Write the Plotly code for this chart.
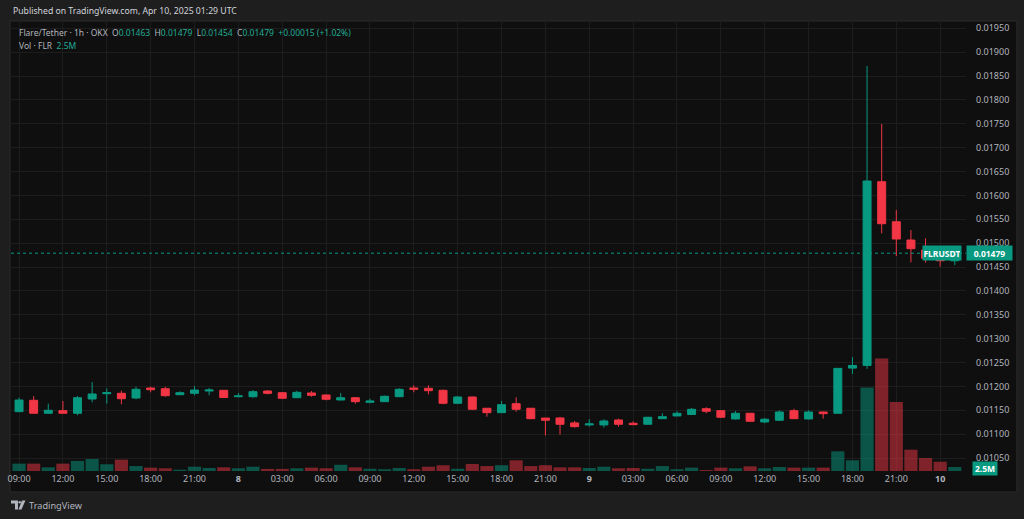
import pandas as pd
import plotly.graph_objects as go

# FLR/USDT 1h candles, OKX, 2025-04-07 09:00 .. 2025-04-10 01:00 UTC
start_time = "2025-04-07 09:00"
n_candles = 65

opens = [0.011471, 0.011709, 0.011437, 0.011492, 0.011437, 0.011736, 0.011847, 0.011855, 0.011757, 0.011966,
         0.011951, 0.011826, 0.011855, 0.011903, 0.011918, 0.011784, 0.011784, 0.011903, 0.011868, 0.011763,
         0.011862, 0.011820, 0.011715, 0.011763, 0.011667, 0.011680, 0.011784, 0.011966, 0.011960, 0.011918,
         0.011646, 0.011778, 0.011542, 0.011450, 0.011638, 0.011542, 0.011337, 0.011339, 0.011235, 0.011193,
         0.011193, 0.011297, 0.011228, 0.011207, 0.011324, 0.011381, 0.011412, 0.011533, 0.011492, 0.011318,
         0.011437, 0.011255, 0.011291, 0.011492, 0.011318, 0.011464, 0.011437, 0.012383, 0.012439, 0.016287,
         0.015449, 0.015066, 0.014857, 0.014683, 0.014630]
highs = [0.011763, 0.011799, 0.011638, 0.011694, 0.011799, 0.012091, 0.011960, 0.011910, 0.011993, 0.011993,
         0.011993, 0.011897, 0.012008, 0.011966, 0.011924, 0.011862, 0.011924, 0.011924, 0.011876, 0.011910,
         0.011903, 0.011830, 0.011862, 0.011778, 0.011742, 0.011809, 0.011960, 0.012023, 0.012023, 0.011935,
         0.011799, 0.011788, 0.011548, 0.011694, 0.011772, 0.011548, 0.011337, 0.011360, 0.011276, 0.011312,
         0.011312, 0.011324, 0.011270, 0.011360, 0.011437, 0.011479, 0.011548, 0.011563, 0.011500, 0.011485,
         0.011444, 0.011339, 0.011500, 0.011533, 0.011500, 0.011475, 0.012383, 0.012613, 0.018710, 0.017496,
         0.015694, 0.015275, 0.015102, 0.014730, 0.014790]
lows = [0.011464, 0.011437, 0.011423, 0.011433, 0.011396, 0.011667, 0.011638, 0.011625, 0.011730, 0.011876,
        0.011784, 0.011820, 0.011814, 0.011814, 0.011757, 0.011772, 0.011763, 0.011834, 0.011736, 0.011757,
        0.011784, 0.011709, 0.011709, 0.011638, 0.011646, 0.011673, 0.011778, 0.011876, 0.011834, 0.011625,
        0.011632, 0.011506, 0.011366, 0.011444, 0.011471, 0.011312, 0.010972, 0.010993, 0.011136, 0.011157,
        0.011136, 0.011157, 0.011193, 0.011199, 0.011318, 0.011375, 0.011408, 0.011437, 0.011339, 0.011308,
        0.011255, 0.011228, 0.011276, 0.011318, 0.011308, 0.011324, 0.011433, 0.012258, 0.012368, 0.015206,
        0.014730, 0.014599, 0.014591, 0.014507, 0.014540]
closes = [0.011715, 0.011437, 0.011500, 0.011437, 0.011763, 0.011841, 0.011868, 0.011742, 0.011939, 0.011931,
          0.011805, 0.011868, 0.011924, 0.011924, 0.011768, 0.011801, 0.011889, 0.011855, 0.011751, 0.011876,
          0.011814, 0.011730, 0.011763, 0.011680, 0.011694, 0.011793, 0.011939, 0.011939, 0.011910, 0.011646,
          0.011778, 0.011521, 0.011450, 0.011617, 0.011521, 0.011324, 0.011291, 0.011207, 0.011157, 0.011214,
          0.011276, 0.011207, 0.011199, 0.011354, 0.011366, 0.011437, 0.011521, 0.011479, 0.011354, 0.011437,
          0.011270, 0.011312, 0.011464, 0.011324, 0.011464, 0.011429, 0.012378, 0.012439, 0.016302, 0.015407,
          0.015087, 0.014884, 0.014683, 0.014632, 0.014790]
# volume in millions of FLR
volumes = [4.6, 4.6, 2.3, 4.6, 6.3, 7.5, 4.2, 7.1, 3.1, 2.1,
           1.7, 0.8, 2.7, 1.9, 2.3, 1.7, 2.7, 1.3, 1.3, 1.7,
           2.1, 1.7, 3.9, 2.3, 1.4, 1.1, 1.9, 1.1, 2.7, 3.6,
           1.4, 4.4, 3.1, 3.6, 6.7, 3.1, 3.6, 2.3, 2.3, 1.9,
           2.7, 1.7, 1.9, 1.4, 3.1, 1.1, 2.1, 0.6, 2.1, 1.7,
           2.9, 1.7, 2.5, 2.1, 2.1, 2.1, 12.3, 6.7, 52.1, 70.2,
           43.1, 13.3, 8.1, 5.8, 2.5]

time_labels = ["09:00", "12:00", "15:00", "18:00", "21:00", "<b>8</b>", "03:00", "06:00", "09:00", "12:00",
               "15:00", "18:00", "21:00", "<b>9</b>", "03:00", "06:00", "09:00", "12:00", "15:00", "18:00",
               "21:00", "<b>10</b>"]
price_ticks = [0.0105, 0.0110, 0.0115, 0.0120, 0.0125, 0.0130, 0.0135, 0.0140, 0.0145,
               0.0150, 0.0155, 0.0160, 0.0165, 0.0170, 0.0175, 0.0180, 0.0185, 0.0190, 0.0195]

last_price = 0.01479
change_abs = "+0.00015"
change_pct = "+1.02%"
last_volume_label = "2.5M"

UP = "#089981"
DOWN = "#f23645"
TEAL_TXT = "#22ab94"
FONT = "Noto Sans"

times = pd.date_range(start_time, periods=n_candles, freq="h")
vol_colors = ["rgba(8,153,129,0.5)" if c >= o else "rgba(242,54,69,0.5)" for o, c in zip(opens, closes)]

W, H = 1024, 519
ML, MR, MT, MB = 8, 58, 21, 48
PW, PH = W - ML - MR, H - MT - MB


def px(x):
    return (x - ML) / PW


def py(y):
    return (H - MB - y) / PH


fig = go.Figure()

fig.add_trace(go.Bar(
    x=times, y=volumes, marker=dict(color=vol_colors, line=dict(width=0)),
    yaxis="y", hoverinfo="skip", showlegend=False,
))

fig.add_trace(go.Candlestick(
    x=times, open=opens, high=highs, low=lows, close=closes, yaxis="y2",
    increasing=dict(line=dict(color=UP, width=1), fillcolor=UP),
    decreasing=dict(line=dict(color=DOWN, width=1), fillcolor=DOWN),
    whiskerwidth=0, showlegend=False,
))

x_start = times[0] - pd.Timedelta(minutes=33)
x_end = times[-1] + pd.Timedelta(minutes=46)

fig.update_layout(
    width=W, height=H,
    margin=dict(l=ML, r=MR, t=MT, b=MB),
    paper_bgcolor="#1e1e1e",
    plot_bgcolor="#0f0f0f",
    font=dict(family=FONT, size=9, color="#b2b5be"),
    bargap=0.1,
    boxgap=0.22,
    showlegend=False,
    xaxis=dict(
        type="date", range=[x_start, x_end], rangeslider=dict(visible=False),
        tickvals=list(times[::3]), ticktext=time_labels,
        showgrid=True, gridcolor="#1d1d1d", gridwidth=1,
        zeroline=False, showline=False, ticks="",
        tickfont=dict(size=9, color="#b2b5be"), ticklabelstandoff=1,
    ),
    yaxis=dict(
        range=[0, 281], visible=False, showgrid=False, zeroline=False, fixedrange=True,
    ),
    yaxis2=dict(
        overlaying="y", side="right", range=[0.010228, 0.019653],
        tickvals=price_ticks, tickformat=".5f",
        showgrid=True, gridcolor="#1d1d1d", gridwidth=1,
        zeroline=False, showline=False, ticks="",
        tickfont=dict(size=9, color="#b2b5be"), ticklabelstandoff=9,
    ),
)

# chart panel and its frame
fig.add_shape(type="rect", xref="paper", yref="paper",
              x0=px(7), x1=px(1017), y0=py(492), y1=py(21),
              fillcolor="#0f0f0f", line=dict(color="#2a2a2a", width=1), layer="below")

# last price dotted line
fig.add_shape(type="line", xref="paper", yref="y2", x0=0, x1=1, y0=last_price, y1=last_price,
              line=dict(color=UP, width=1, dash="dot"))

# price / symbol / volume labels
fig.add_annotation(xref="paper", yref="y2", x=1, y=last_price, xanchor="left", yanchor="middle",
                   text="<b>%.5f</b>" % last_price, showarrow=False, bgcolor=UP,
                   font=dict(color="#ffffff", size=8.5, family=FONT), width=43, height=12, borderpad=1)
fig.add_annotation(xref="paper", yref="y2", x=1, y=last_price, xanchor="right", yanchor="middle",
                   xshift=-4, text="<b>FLRUSDT</b>", showarrow=False, bgcolor=UP,
                   font=dict(color="#ffffff", size=8.5, family=FONT), width=36, height=12, borderpad=1)
fig.add_annotation(xref="paper", yref="y", x=1, y=volumes[-1], xanchor="left", yanchor="middle",
                   xshift=6, yshift=-1, text="<b>" + last_volume_label + "</b>", showarrow=False, bgcolor=UP,
                   font=dict(color="#ffffff", size=8.5, family=FONT), width=22, height=11, borderpad=1)

# header and legend text
fig.add_annotation(xref="paper", yref="paper", x=0, y=py(11), xanchor="left", yanchor="middle",
                   text="Published on TradingView.com, Apr 10, 2025 01:29 UTC", showarrow=False,
                   font=dict(color="#d1d4dc", size=8.7, family=FONT))


def teal(s):
    return "<span style='color:%s'>%s</span>" % (TEAL_TXT, s)


legend1 = ("Flare/Tether · 1h · OKX  O" + teal("%.5f" % opens[-1]) + "  H" + teal("%.5f" % highs[-1])
           + "  L" + teal("%.5f" % lows[-1]) + "  C" + teal("%.5f" % closes[-1])
           + "  " + teal("%s (%s)" % (change_abs, change_pct)))
fig.add_annotation(xref="paper", yref="paper", x=px(14), y=py(32), xanchor="left", yanchor="middle",
                   text=legend1, showarrow=False, font=dict(color="#b2b5be", size=8.5, family=FONT))
fig.add_annotation(xref="paper", yref="paper", x=px(14), y=py(45), xanchor="left", yanchor="middle",
                   text="Vol · FLR  " + teal(last_volume_label), showarrow=False,
                   font=dict(color="#b2b5be", size=8.5, family=FONT))

# footer logo
logo = "#b2b5be"
fig.add_shape(type="path", xref="paper", yref="paper",
              path="M %f,%f L %f,%f L %f,%f L %f,%f L %f,%f L %f,%f Z" % (
                  px(8), py(500.5), px(15), py(500.5), px(15), py(509.5), px(12), py(509.5),
                  px(12), py(503.5), px(8), py(503.5)),
              fillcolor=logo, line=dict(width=0))
fig.add_shape(type="circle", xref="paper", yref="paper",
              x0=px(15.5), x1=px(18), y0=py(503.5), y1=py(501),
              fillcolor=logo, line=dict(width=0))
fig.add_shape(type="path", xref="paper", yref="paper",
              path="M %f,%f L %f,%f L %f,%f L %f,%f Z" % (
                  px(19), py(500.5), px(22.5), py(500.5), px(18.5), py(509.5), px(15.5), py(509.5)),
              fillcolor=logo, line=dict(width=0))
fig.add_annotation(xref="paper", yref="paper", x=px(24), y=py(505), xanchor="left", yanchor="middle",
                   text="TradingView", showarrow=False, font=dict(color=logo, size=9.2, family=FONT))

fig.write_html("out.html", config={"displayModeBar": False},
               post_script="document.body.style.margin='0';document.body.style.background='#1e1e1e';"
                           "document.body.style.overflow='hidden';")
